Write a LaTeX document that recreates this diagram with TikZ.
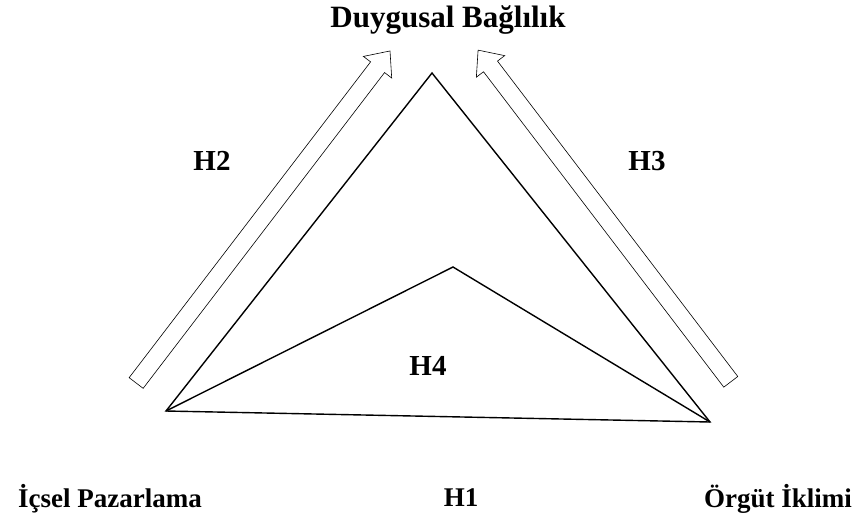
\documentclass[tikz,border=0pt]{standalone}
\usepackage{fontspec}
\setmainfont{Liberation Serif}
\usetikzlibrary{shapes.arrows}
\tikzset{
  lbl/.style={font=\bfseries\fontsize{27}{30}\selectfont, inner sep=0pt, anchor=base},
  hlbl/.style={font=\bfseries\fontsize{29}{32}\selectfont, inner sep=0pt, anchor=base},
  ttl/.style={font=\bfseries\fontsize{31}{34}\selectfont, inner sep=0pt, anchor=base},
  blockarrow/.style={single arrow, draw, line width=0.6pt, inner sep=8.5pt,
    single arrow head extend=9pt, single arrow tip angle=82, minimum height=418pt},
  edge/.style={line width=1.4pt, line join=miter}
}
\begin{document}
\begin{tikzpicture}[x=1pt,y=-1pt]
\useasboundingbox (0,0) rectangle (858,517);
\node[ttl] (title) at (448,27) {Duygusal Bağlılık};
\node[hlbl] (h2) at (212,170) {H2};
\node[hlbl] (h3) at (647,170) {H3};
\node[hlbl] (h4) at (428,375) {H4};
\node[lbl] (h1) at (461,506) {H1};
\node[lbl] (ip) at (110,507) {İçsel Pazarlama};
\node[lbl] (oi) at (778,507) {Örgüt İklimi};
\coordinate (L) at (166,411);
\coordinate (T) at (432,73);
\coordinate (R) at (710,422);
\coordinate (I) at (453,267);
\draw[edge] (L) -- (T) -- (R) -- cycle;
\draw[edge] (L) -- (I) -- (R);
\node[blockarrow, rotate=52.6] (a2) at (260,221) {};
\node[blockarrow, rotate=127.3, minimum height=417pt] (a3) at (607.5,220) {};
\end{tikzpicture}
\end{document}
